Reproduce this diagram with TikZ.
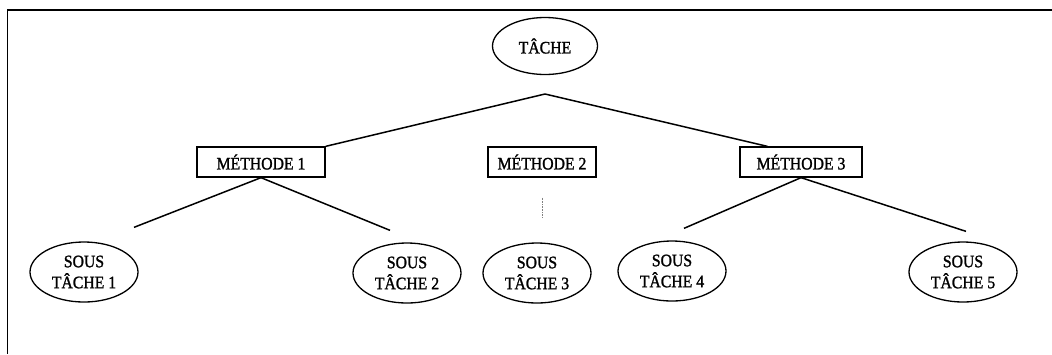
\documentclass[tikz,border=0pt]{standalone}
\usepackage{fontspec}
\setmainfont{Liberation Serif}
\newfontfamily\scanfont{Liberation Serif}[FakeBold=1.4,FakeStretch=0.9]
\usetikzlibrary{shapes.geometric,calc}
\begin{document}
\begin{tikzpicture}[x=1pt,y=-1pt,
  task/.style={draw, ellipse, line width=1.3pt, inner sep=0pt, minimum width=108pt, minimum height=60pt, align=center, font=\scanfont\fontsize{17.5}{21}\selectfont},
  meth/.style={draw, rectangle, line width=1.3pt, minimum width=128pt, minimum height=30pt, inner sep=0pt, font=\scanfont\fontsize{17.5}{20}\selectfont},
  link/.style={line width=1.5pt},
  faint/.style={line width=0.6pt, gray, densely dotted},
  topframe/.style={line width=1.6pt},
  sideframe/.style={line width=0.9pt}]
\useasboundingbox (0,0) rectangle (1052,354);
\coordinate (tl) at (7,10);
\coordinate (tr) at (1052,10);
\coordinate (bl) at (7,354);
\draw[topframe] (tr) -- (tl);
\draw[sideframe] (tl) -- (bl);

\node[task, minimum width=105pt, minimum height=57pt] (tache) at (545,46) {TÂCHE};
\coordinate (apex) at (545,94);

\node[meth] (m1) at (261,162) {MÉTHODE 1};
\node[meth, minimum width=108pt] (m2) at (542,162) {MÉTHODE 2};
\node[meth, minimum width=122pt] (m3) at (801,162) {MÉTHODE 3};

\node[task] (st1) at (84,272) {SOUS\\TÂCHE 1};
\node[task] (st2) at (407,273) {SOUS\\TÂCHE 2};
\node[task] (st3) at (537,273) {SOUS\\TÂCHE 3};
\node[task] (st4) at (672,271) {SOUS\\TÂCHE 4};
\node[task] (st5) at (963,272) {SOUS\\TÂCHE 5};

\draw[link] (apex) -- (m1.north east);
\draw[link] (apex) -- ($(m3.north west)+(28,0)$);

\draw[link] (m1.south) -- ($(st1.north)+(50,-14)$);
\draw[link] (m1.south) -- ($(st2.north)+(-17,-12)$);
\draw[faint] ($(m2.south)+(0,20)$) -- ($(st3.north)+(5,-24)$);
\draw[link] (m3.south) -- ($(st4.north)+(12,-12)$);
\draw[link] (m3.south) -- ($(st5.north)+(3,-10)$);
\end{tikzpicture}
\end{document}
